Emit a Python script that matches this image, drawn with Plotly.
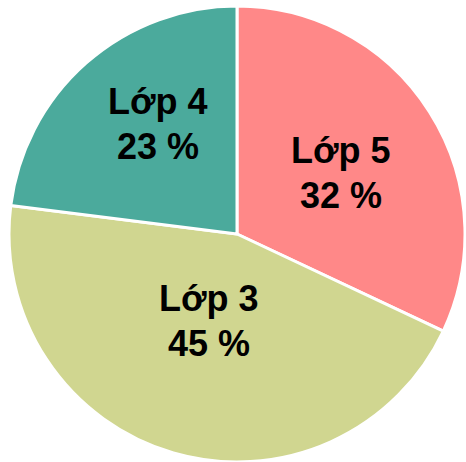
import plotly.graph_objects as go

labels = ["Lớp 5", "Lớp 3", "Lớp 4"]
values = [32, 45, 23]
colors = ["#FF8888", "#D0D690", "#4BAA9C"]

W, H = 466, 462
cx, cy, r = 237, 234, 228

# label placement (pixel centres of the two text lines, from top-left)
label_pos = {"Lớp 5": (341, 150, 195), "Lớp 3": (209, 298, 343), "Lớp 4": (158, 102, 147)}

fig = go.Figure(go.Pie(
    labels=labels, values=values, sort=False, direction="clockwise", rotation=0,
    marker=dict(colors=colors, line=dict(color="white", width=3)),
    textinfo="none",
    domain=dict(x=[(cx - r) / W, (cx + r) / W], y=[(H - cy - r) / H, (H - cy + r) / H]),
    showlegend=False, hoverinfo="label+percent",
))

font = dict(family="Liberation Sans, Arial", size=36, color="black")
for lab, val in zip(labels, values):
    x, y1, y2 = label_pos[lab]
    for txt, yy in ((lab, y1), (f"{val} %", y2)):
        fig.add_annotation(text=f"<b>{txt}</b>", x=x / W, y=1 - yy / H, xref="paper", yref="paper",
                           xanchor="center", yanchor="middle", showarrow=False, font=font)

fig.update_layout(width=W, height=H, margin=dict(l=0, r=0, t=0, b=0),
                  paper_bgcolor="white", plot_bgcolor="white")
fig.write_html("out.html", config={"displayModeBar": False},
               post_script="document.body.style.margin='0';document.body.style.overflow='hidden';")
